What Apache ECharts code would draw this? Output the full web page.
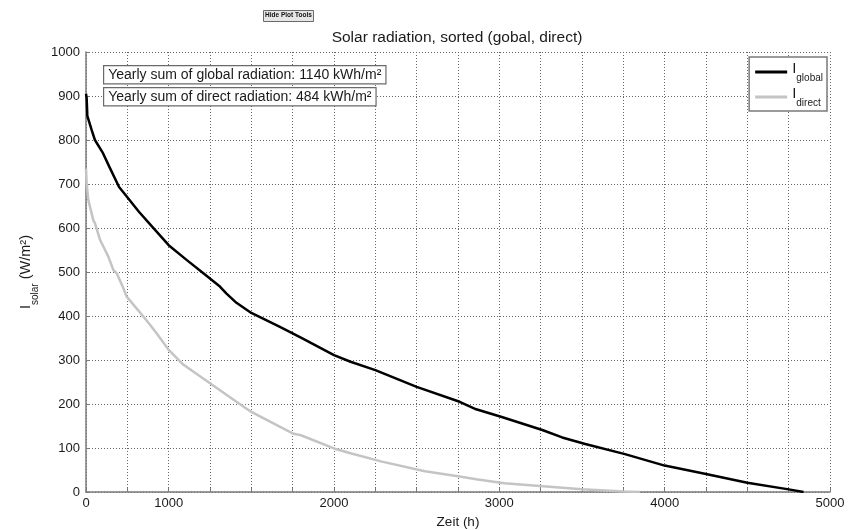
<!DOCTYPE html>
<html>
<head>
<meta charset="utf-8">
<script src="https://cdn.jsdelivr.net/npm/echarts@6/dist/echarts.min.js"></script>
<style>
  html, body { margin: 0; padding: 0; background: #fff; }
  #chart { width: 859px; height: 530px; }
</style>
</head>
<body>
<div id="chart"></div>
<script>
// Sorted duration curves of solar irradiance (hours with a given intensity)
const globalHours  = [500, 504, 508, 534, 554, 600, 640, 700, 750, 820, 900, 1000, 1110, 1210, 1310, 1350, 1410, 1500, 1670, 1800, 2000, 2100, 2250, 2500, 2760, 2860, 3010, 3260, 3380, 3520, 3760, 4000, 4250, 4500, 4750, 4840];
const globalValues = [905, 895, 855, 823, 800, 772, 740, 693, 670, 637, 603, 561, 527, 497, 467, 451, 430, 407, 376, 351, 311, 296, 277, 239, 205, 188, 171, 141, 124, 109, 86, 60, 41, 21, 6, 0];

const directHours  = [500, 504, 514, 544, 554, 585, 605, 635, 665, 686, 726, 746, 847, 887, 928, 1000, 1090, 1250, 1410, 1500, 1750, 1800, 2000, 2100, 2250, 2290, 2550, 2760, 2860, 3030, 3500, 3750, 3850];
const directValues = [735, 701, 664, 618, 611, 573, 558, 535, 505, 497, 463, 444, 399, 380, 360, 323, 289, 247, 205, 182, 133, 129, 99, 88, 73, 69, 47, 35, 29, 20, 6, 1, 0];

// Axis tick labels
const xTickValues = [500, 1000, 2000, 3000, 4000, 5000];
const xTickLabels = ['0', '1000', '2000', '3000', '4000', '5000'];

// Yearly sums shown in the annotation boxes (kWh/m²)
const yearlyGlobal = 1140;
const yearlyDirect = 484;

const seriesNames = ['global', 'direct'];

const FONT = 'Liberation Sans, Arial, sans-serif';
const chart = echarts.init(document.getElementById('chart'), null, { renderer: 'canvas' });

const pairs = (xs, ys) => xs.map((x, i) => [x, ys[i]]);

const gridDash = { color: '#666666', width: 1, type: [1, 2] };

chart.setOption({
  backgroundColor: '#ffffff',
  animation: false,
  title: {
    text: 'Solar radiation, sorted (gobal, direct)',
    left: 452, top: 25, textAlign: 'center',
    textStyle: { fontFamily: FONT, fontSize: 15.5, fontWeight: 'normal', color: '#1a1a1a' }
  },
  grid: { left: 86, right: 29, top: 52, bottom: 38, containLabel: false, outerBoundsMode: 'none' },
  legend: {
    data: seriesNames,
    orient: 'vertical',
    right: 32, top: 57,
    padding: [4, 4, 3, 6],
    itemGap: 3,
    icon: 'rect',
    itemWidth: 32, itemHeight: 3,
    backgroundColor: '#ffffff',
    borderColor: '#7a7a7a', borderWidth: 1.5,
    formatter: name => '{m|I}{s|' + name + '}',
    textStyle: {
      fontFamily: FONT, color: '#1a1a1a',
      rich: {
        m: { fontSize: 15, fontFamily: FONT, lineHeight: 22, verticalAlign: 'top' },
        s: { fontSize: 10, fontFamily: FONT, lineHeight: 22, verticalAlign: 'bottom' }
      }
    }
  },
  xAxis: {
    type: 'value',
    min: 500, max: 5000, interval: 250,
    name: 'Zeit (h)', nameLocation: 'middle', nameGap: 21,
    nameTextStyle: { fontFamily: FONT, fontSize: 13.5, color: '#1a1a1a' },
    axisLine: { show: true, onZero: false, lineStyle: { color: '#7a7a7a', width: 1.5 } },
    axisTick: { show: true, inside: true, length: 4, lineStyle: { color: '#7a7a7a' } },
    axisLabel: {
      fontFamily: FONT, fontSize: 13, color: '#1a1a1a', margin: 5,
      formatter: v => {
        const k = xTickValues.indexOf(v);
        return k >= 0 ? xTickLabels[k] : '';
      }
    },
    splitLine: { show: true, lineStyle: gridDash }
  },
  yAxis: {
    type: 'value',
    min: 0, max: 1000, interval: 100,
    name: '{m|I}{s|solar}{m| (W/m²)}', nameLocation: 'middle', nameGap: 41, nameRotate: 90,
    nameTextStyle: {
      fontFamily: FONT, color: '#1a1a1a',
      rich: {
        m: { fontSize: 14.5, fontFamily: FONT, lineHeight: 22, verticalAlign: 'top' },
        s: { fontSize: 10, fontFamily: FONT, lineHeight: 22, verticalAlign: 'bottom' }
      }
    },
    axisLine: { show: true, lineStyle: { color: '#7a7a7a', width: 1.5 } },
    axisTick: { show: true, inside: true, length: 4, lineStyle: { color: '#7a7a7a' } },
    axisLabel: { fontFamily: FONT, fontSize: 13, color: '#1a1a1a', margin: 6, formatter: v => String(v) },
    splitLine: { show: true, lineStyle: gridDash }
  },
  series: [
    {
      name: 'global', type: 'line', symbol: 'none',
      data: pairs(globalHours, globalValues),
      itemStyle: { color: '#000000' },
      lineStyle: { color: '#000000', width: 2.5 }
    },
    {
      name: 'direct', type: 'line', symbol: 'none',
      data: pairs(directHours, directValues),
      itemStyle: { color: '#c4c4c4' },
      lineStyle: { color: '#c4c4c4', width: 2.5 }
    }
  ],
  graphic: [
    // toolbar button above the title
    { type: 'rect', left: 263, top: 10, shape: { width: 50, height: 11 },
      style: { fill: '#e6e6e6', stroke: '#6a6a6a', lineWidth: 1 } },
    { type: 'text', left: 265, top: 12,
      style: { text: 'Hide Plot Tools', font: 'bold 6.5px ' + FONT, fill: '#111' } },
    // yearly sums
    { type: 'text', left: 103, top: 65, z: 10,
      style: {
        text: 'Yearly sum of global radiation: ' + yearlyGlobal + ' kWh/m²',
        font: '14px ' + FONT, fill: '#1a1a1a',
        backgroundColor: '#ffffff', borderColor: '#6a6a6a', borderWidth: 1.2,
        padding: [2, 4, 1, 4]
      } },
    { type: 'text', left: 103, top: 87, z: 10,
      style: {
        text: 'Yearly sum of direct radiation: ' + yearlyDirect + ' kWh/m²',
        font: '14px ' + FONT, fill: '#1a1a1a',
        backgroundColor: '#ffffff', borderColor: '#6a6a6a', borderWidth: 1.2,
        padding: [2, 4, 1, 4]
      } }
  ]
});
</script>
</body>
</html>
